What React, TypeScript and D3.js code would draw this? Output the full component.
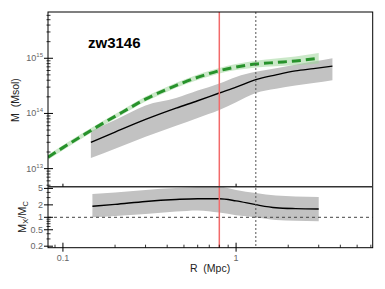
import React from 'react'
import * as d3 from 'd3'

// hydrostatic (X-ray) mass profile: radius in Mpc, mass in Msol
const xRadius = [0.145, 0.2, 0.3, 0.45, 0.6, 0.8, 1.0, 1.3, 1.7, 2.2, 2.8, 3.6]
const xMass = [3.0e13, 4.6e13, 7.8e13, 1.25e14, 1.7e14, 2.35e14, 3.0e14, 4.1e14, 5.0e14, 5.9e14, 6.5e14, 7.2e14]
const xMassHi = [4.8e13, 7.6e13, 1.4e14, 1.9e14, 2.6e14, 3.5e14, 4.6e14, 5.7e14, 6.6e14, 7.6e14, 8.7e14, 1.0e15]
const xMassLo = [1.55e13, 2.3e13, 3.8e13, 6.0e13, 8.3e13, 1.15e14, 1.6e14, 2.35e14, 2.8e14, 3.2e14, 3.55e14, 4.0e14]

// model / caustic mass profile (green)
const cRadius = [0.082, 0.1, 0.13, 0.17, 0.22, 0.3, 0.4, 0.5, 0.65, 0.8, 1.0, 1.3, 1.7, 2.2, 3.0]
const cMass = [1.61e13, 2.4e13, 3.98e13, 6.61e13, 1.05e14, 1.82e14, 2.75e14, 3.67e14, 4.9e14, 5.96e14, 6.92e14, 7.85e14, 8.41e14, 8.95e14, 1.0e15]
const cMassHi = [1.79e13, 2.66e13, 4.42e13, 7.33e13, 1.16e14, 2.02e14, 3.05e14, 4.07e14, 5.5e14, 6.68e14, 7.85e14, 9.02e14, 9.89e14, 1.08e15, 1.24e15]
const cMassLo = [1.45e13, 2.16e13, 3.59e13, 5.96e13, 9.44e13, 1.64e14, 2.48e14, 3.31e14, 4.37e14, 5.31e14, 6.1e14, 6.84e14, 7.16e14, 7.45e14, 8.04e14]

// ratio Mx/Mc
const rRadius = [0.148, 0.2, 0.3, 0.45, 0.6, 0.8, 1.0, 1.3, 1.7, 2.2, 3.0]
const ratio = [1.85, 2.05, 2.42, 2.7, 2.82, 2.82, 2.5, 2.02, 1.7, 1.62, 1.59]
const ratioHi = [3.67, 4.0, 4.6, 5.1, 5.4, 5.5, 4.6, 3.87, 3.35, 3.2, 3.1]
const ratioLo = [1.0, 1.08, 1.2, 1.38, 1.47, 1.3, 1.12, 1.0, 0.86, 0.82, 0.8]

const redRadius = 0.8
const dashRadius = 1.3
const majorY = [1e13, 1e14, 1e15]
const majorExp = ['13', '14', '15']
const ratioTicks = [5, 2, 1, 0.5, 0.2]
const xTickValues = [0.1, 1]
const xTickLabels = ['0.1', '1']

const W = 385
const H = 289
const L = 48
const R = 372.7
const T = 12
const MID = 186.7
const B = 247.7
const font = '"Liberation Sans", Arial, sans-serif'

export default function App() {
  const x = d3.scaleLog().domain([0.082, 6.15]).range([L, R])
  const yTop = d3.scaleLog().domain([4.7e12, 6.9e15]).range([MID, T])
  const yBot = d3.scaleLog().domain([0.184, 5.5]).range([B, MID])

  const band = (rs: number[], lo: number[], hi: number[], y: any) =>
    d3
      .area<number>()
      .x((d) => x(rs[d]))
      .y0((d) => y(lo[d]))
      .y1((d) => y(hi[d]))
      .curve(d3.curveMonotoneX)(d3.range(rs.length)) as string

  const line = (rs: number[], vs: number[], y: any) =>
    d3
      .line<number>()
      .x((d) => x(rs[d]))
      .y((d) => y(vs[d]))
      .curve(d3.curveMonotoneX)(d3.range(rs.length)) as string

  // minor ticks
  const yTopMinor = yTop.ticks().filter((v) => !majorY.includes(v))
  const yBotMinor = yBot.ticks().filter((v) => !ratioTicks.includes(v))
  const xMinor = x.ticks().filter((v) => !xTickValues.some((m) => Math.abs(m - v) < 1e-9))

  return (
    <svg width={W} height={H} style={{ position: 'fixed', left: 0, top: 0, background: '#fff' }} fontFamily={font}>
      <defs>
        <clipPath id="clipTop">
          <rect x={L} y={T} width={R - L} height={MID - T} />
        </clipPath>
        <clipPath id="clipBot">
          <rect x={L} y={MID} width={R - L} height={B - MID} />
        </clipPath>
      </defs>

      {/* upper panel */}
      <g clipPath="url(#clipTop)">
        <path d={band(xRadius, xMassLo, xMassHi, yTop)} fill="#c2c2c2" />
        <path d={line(xRadius, xMass, yTop)} fill="none" stroke="#000" strokeWidth={1.4} />
        <path d={band(cRadius, cMassLo, cMassHi, yTop)} fill="#9fd69a" opacity={0.55} />
        <path d={line(cRadius, cMass, yTop)} fill="none" stroke="#27922b" strokeWidth={3} strokeDasharray="9,5" />
      </g>

      {/* lower panel */}
      <g clipPath="url(#clipBot)">
        <path d={band(rRadius, ratioLo, ratioHi, yBot)} fill="#c2c2c2" />
        <path d={line(rRadius, ratio, yBot)} fill="none" stroke="#000" strokeWidth={1.4} />
        <line x1={L} x2={R} y1={yBot(1)} y2={yBot(1)} stroke="#444" strokeWidth={1} strokeDasharray="3,3" />
      </g>

      {/* vertical markers */}
      <line x1={x(redRadius)} x2={x(redRadius)} y1={T} y2={B} stroke="#f26a6a" strokeWidth={1.5} />
      <line x1={x(dashRadius)} x2={x(dashRadius)} y1={T} y2={B} stroke="#555" strokeWidth={1} strokeDasharray="2,2" />

      {/* frame */}
      <rect x={L} y={T} width={R - L} height={B - T} fill="none" stroke="#000" strokeWidth={1} />
      <line x1={L} x2={R} y1={MID} y2={MID} stroke="#333" strokeWidth={1.6} />

      {/* left axis upper */}
      {yTopMinor.map((v, i) => (
        <line key={'ytm' + i} x1={L - 1.5} x2={L + 2.5} y1={yTop(v)} y2={yTop(v)} stroke="#000" strokeWidth={0.8} />
      ))}
      {majorY.map((v, i) => (
        <g key={'ytM' + i}>
          <line x1={L - 4} x2={L + 5} y1={yTop(v)} y2={yTop(v)} stroke="#000" strokeWidth={1} />
          <text x={L - 5} y={yTop(v) + 3} textAnchor="end" fontSize={9} fill="#666">
            10<tspan dy={-4} fontSize={6}>{majorExp[i]}</tspan>
          </text>
        </g>
      ))}

      {/* left axis lower */}
      {yBotMinor.map((v, i) => (
        <line key={'ybm' + i} x1={L - 1.5} x2={L + 2.5} y1={yBot(v)} y2={yBot(v)} stroke="#000" strokeWidth={0.8} />
      ))}
      {ratioTicks.map((v, i) => (
        <g key={'ybM' + i}>
          <line x1={L - 4} x2={L + 5} y1={yBot(v)} y2={yBot(v)} stroke="#000" strokeWidth={1} />
          <text x={L - 5} y={yBot(v) + 3} textAnchor="end" fontSize={9} fill="#666">
            {v}
          </text>
        </g>
      ))}

      {/* bottom axis */}
      {xMinor.map((v, i) => (
        <line key={'xm' + i} x1={x(v)} x2={x(v)} y1={B} y2={B - 3} stroke="#000" strokeWidth={0.8} />
      ))}
      {xTickValues.map((v, i) => (
        <g key={'xM' + i}>
          <line x1={x(v)} x2={x(v)} y1={B - 5} y2={B + 4} stroke="#000" strokeWidth={1} />
          <line x1={x(v)} x2={x(v)} y1={MID - 3} y2={MID} stroke="#000" strokeWidth={1} />
          <text x={x(v)} y={B + 13} textAnchor="middle" fontSize={9} fill="#666">
            {xTickLabels[i]}
          </text>
        </g>
      ))}

      {/* titles */}
      <text x={88} y={48} fontSize={15} fontWeight="bold" fill="#000">
        zw3146
      </text>
      <text x={210} y={272} textAnchor="middle" fontSize={10.5} fill="#222" xmlSpace="preserve">
        R  (Mpc)
      </text>
      <text transform="translate(19,100) rotate(-90)" textAnchor="middle" fontSize={10.5} fill="#222" xmlSpace="preserve">
        M  (Msol)
      </text>
      <text transform="translate(26,217) rotate(-90)" textAnchor="middle" fontSize={11} fill="#222">
        M<tspan dy={2} fontSize={7.5}>X</tspan>
        <tspan dy={-2}>/M</tspan>
        <tspan dy={2} fontSize={7.5}>C</tspan>
      </text>
    </svg>
  )
}
